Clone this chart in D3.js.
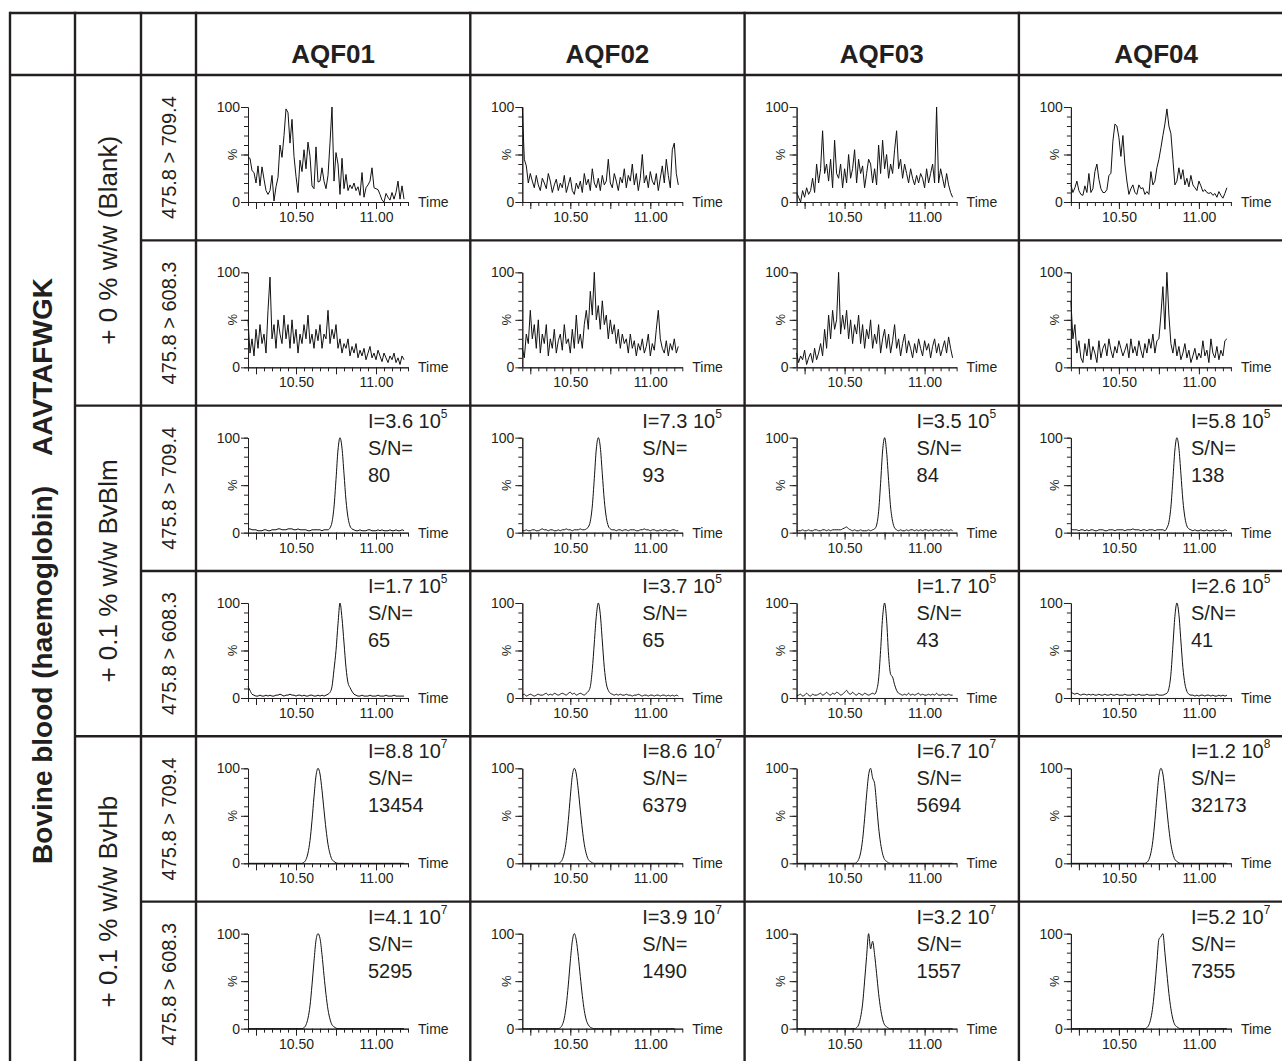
<!DOCTYPE html>
<meta charset="utf-8">
<body style="margin:0;background:#fff">
<script src="https://d3js.org/d3.v7.min.js"></script>
<script>
// ---- labels ----
var columns = ["AQF01", "AQF02", "AQF03", "AQF04"];
var groups = ["+ 0 % w/w (Blank)", "+ 0.1 % w/w BvBlm", "+ 0.1 % w/w BvHb"];
var transitions = ["475.8 > 709.4", "475.8 > 608.3"];
var sideLabel = ["Bovine blood (haemoglobin)", "AAVTAFWGK"];
var xLabels = [10.50, 11.00];
var xMajor = [10.25, 10.50, 10.75, 11.00];
var yLabels = [0, 100];

// sampling of every trace: first time and spacing (min)
var tStart = 10.2, tStep = 0.0125;

// ---- chromatogram intensities (% of max), one array per AQF column ----
var blank709 = [
  [47,46,33,31,20,38,17,37,24,12,8,12,28,1,16,26,60,47,70,98,94,62,87,48,27,10,44,32,55,35,63,48,17,14,58,21,22,36,22,14,28,62,100,22,52,40,8,46,14,29,12,18,14,20,12,16,7,31,5,15,18,22,36,15,14,13,8,2,0,9,5,2,10,3,10,22,3,17,3],
  [100,45,38,20,30,22,15,28,18,12,25,20,14,30,22,10,18,24,12,20,15,28,10,18,26,12,8,20,14,22,10,30,18,24,12,35,20,15,25,12,28,18,22,45,20,15,30,22,12,26,20,35,15,28,22,40,18,30,12,25,50,20,28,15,32,22,18,30,12,25,38,20,45,28,15,55,62,30,18],
  [10,5,0,12,5,15,8,12,25,10,40,20,35,75,30,40,22,45,15,65,30,25,40,15,35,20,50,25,35,55,20,45,30,38,15,30,45,40,20,35,18,60,30,65,35,50,25,40,30,55,75,35,45,25,40,30,20,35,25,18,28,20,30,25,15,35,20,30,40,20,100,20,35,25,15,30,18,10,5],
  [18,10,15,22,12,8,7,17,10,30,10,14,32,40,24,14,10,10,13,28,30,64,82,80,68,48,70,40,22,8,14,18,10,8,18,14,15,8,11,8,32,18,22,36,45,57,70,82,98,80,72,45,18,22,36,24,34,18,25,16,28,18,15,12,22,17,11,13,10,9,10,7,9,5,11,7,4,9,15]
];
var blank608 = [
  [50,15,30,12,40,20,45,25,35,15,60,95,30,45,20,50,35,25,55,30,45,20,50,25,40,15,35,25,45,30,55,25,35,20,40,28,45,20,35,30,60,25,40,30,45,20,30,15,25,20,30,12,22,15,25,10,18,12,20,8,15,22,10,15,8,18,12,6,15,10,5,12,8,15,5,10,3,12,8],
  [20,10,35,25,60,30,45,20,50,15,35,25,45,12,30,20,40,15,28,35,18,45,25,30,15,40,20,55,25,35,20,45,60,40,80,55,100,50,65,40,70,45,55,30,50,35,45,25,40,20,35,25,30,15,35,20,28,12,25,18,30,15,22,35,12,25,18,40,60,30,20,15,28,12,25,18,30,15,22],
  [15,5,12,8,18,3,10,15,5,20,8,15,25,12,40,20,55,30,60,40,50,100,35,55,40,60,30,50,25,45,35,55,25,45,20,40,30,50,20,35,25,45,15,30,40,20,35,15,28,45,20,30,12,25,35,15,28,20,10,25,15,30,20,12,28,18,25,10,22,30,15,25,12,20,28,15,32,20,10],
  [70,30,45,15,28,10,5,25,12,30,8,22,15,5,28,10,20,25,12,30,18,10,22,15,28,20,12,18,25,10,30,15,22,12,28,18,10,25,15,30,20,35,15,28,30,55,85,40,100,55,25,15,30,12,22,8,15,25,10,18,5,12,20,8,15,10,28,12,18,5,30,15,10,22,8,18,12,28,30]
];
var blm709 = [
  [4,4,3,3,3,2,2,2,3,3,2,2,3,3,3,4,4,3,3,3,4,4,4,3,3,4,3,3,3,3,2,2,3,3,3,3,3,2,3,3,3,5,11,27,56,87,100,89,62,34,16,7,4,3,2,2,3,2,2,2,3,3,2,2,2,3,2,3,2,2,2,3,2,2,3,2,2,3,2],
  [2,2,3,2,2,3,3,2,2,3,4,3,3,2,3,3,2,2,3,2,3,3,4,3,3,2,3,3,3,4,3,3,4,6,12,28,57,88,100,90,62,34,16,7,4,3,3,2,3,3,2,3,3,2,3,3,3,2,2,3,3,4,3,3,2,3,3,2,2,3,2,3,3,2,2,3,3,2,2],
  [2,2,2,3,2,2,3,2,2,3,3,2,2,3,3,2,3,2,3,3,3,3,3,4,5,6,4,3,2,3,2,2,3,2,2,2,3,2,3,4,8,22,52,86,100,85,55,27,12,5,3,2,3,2,2,3,2,3,3,2,3,2,3,2,3,3,2,3,2,3,3,2,3,3,2,3,2,3,2],
  [4,3,3,3,2,3,3,2,3,2,3,3,2,2,3,3,3,2,2,3,3,3,2,3,3,3,3,2,3,3,3,4,3,3,3,2,3,3,2,3,3,3,2,3,3,3,3,2,5,11,27,56,87,100,89,62,34,16,7,4,3,2,3,2,2,3,2,2,3,2,2,3,2,2,3,2,2,3,2]
];
var blm608 = [
  [12,8,4,3,2,2,3,2,2,3,2,3,2,2,3,3,4,3,2,3,3,4,3,3,2,3,3,2,3,2,2,3,3,2,2,3,2,3,2,3,4,6,12,30,50,78,100,84,58,32,16,11,7,4,3,2,2,3,2,2,2,3,2,2,2,3,2,2,2,3,2,2,2,3,2,2,2,2,2],
  [3,4,2,3,4,3,2,3,4,3,3,4,5,3,4,3,5,4,3,4,5,4,3,5,6,4,5,3,4,5,4,3,5,7,12,30,58,86,100,88,60,32,15,8,5,4,3,4,3,4,3,3,4,3,3,2,3,3,4,3,2,3,3,2,3,3,2,3,3,2,3,3,2,3,2,3,2,3,2],
  [2,3,4,2,3,5,3,2,4,3,3,4,5,3,4,6,4,3,5,4,6,5,3,4,6,8,5,4,6,4,3,5,4,3,5,4,3,4,5,4,8,20,50,85,100,82,45,25,22,14,8,5,4,3,4,3,5,3,4,3,4,5,3,4,3,3,4,3,4,3,5,3,3,4,3,3,4,3,3],
  [6,5,4,5,4,3,4,4,3,4,3,4,3,3,4,3,3,4,3,3,4,3,3,4,3,3,3,4,3,3,3,4,3,3,4,3,3,3,4,3,3,3,3,4,3,3,3,4,5,10,25,55,86,100,88,60,32,15,7,4,3,3,2,3,2,3,3,2,3,3,2,3,2,2,3,2,3,2,3]
];
var hb709 = [
  [0,0,0,0,0,0,0,0,0,0,0,0,0,0,0,0,0,0,0,0,0,0,0,0,0,0,0,0,1,4,11,24,45,70,92,100,94,77,56,36,20,10,4,2,0.5,0,0,0,0,0,0,0,0,0,0,0,0,0,0,0,0,0,0,0,0,0,0,0,0,0,0,0,0,0,0,0,0,0,0],
  [0,0,0,0,0,0,0,0,0,0,0,0,0,0,0,0,0,0,0,1,4,11,24,45,70,92,100,94,77,56,36,20,10,4,2,0.5,0,0,0,0,0,0,0,0,0,0,0,0,0,0,0,0,0,0,0,0,0,0,0,0,0,0,0,0,0,0,0,0,0,0,0,0,0,0,0,0,0,0,0],
  [0,0,0,0,0,0,0,0,0,0,0,0,0,0,0,0,0,0,0,0,0,0,0,0,0,0,0,0,0,0,1,4,11,25,47,72,93,100,90,84,62,38,21,10,4,2,0.5,0,0,0,0,0,0,0,0,0,0,0,0,0,0,0,0,0,0,0,0,0,0,0,0,0,0,0,0,0,0,0,0],
  [0,0,0,0,0,0,0,0,0,0,0,0,0,0,0,0,0,0,0,0,0,0,0,0,0,0,0,0,0,0,0,0,0,0,0,0,0,0,1,4,11,24,45,70,92,100,94,77,56,36,20,10,4,2,0.5,0,0,0,0,0,0,0,0,0,0,0,0,0,0,0,0,0,0,0,0,0,0,0,0]
];
var hb608 = [
  [0,0,0,0,0,0,0,0,0,0,0,0,0,0,0,0,0,0,0,0,0,0,0,0,0,0,0,0,1,4,11,24,46,71,93,100,95,78,56,36,20,10,4,2,0.5,0,0,0,0,0,0,0,0,0,0,0,0,0,0,0,0,0,0,0,0,0,0,0,0,0,0,0,0,0,0,0,0,0,0],
  [0,0,0,0,0,0,0,0,0,0,0,0,0,0,0,0,0,0,0,1,4,11,25,46,71,92,100,93,76,55,35,19,9,4,1.5,0.5,0,0,0,0,0,0,0,0,0,0,0,0,0,0,0,0,0,0,0,0,0,0,0,0,0,0,0,0,0,0,0,0,0,0,0,0,0,0,0,0,0],
  [0,0,0,0,0,0,0,0,0,0,0,0,0,0,0,0,0,0,0,0,0,0,0,0,0,0,0,0,0,0,1,4,12,26,50,76,100,84,92,78,58,37,21,10,4,2,0.5,0,0,0,0,0,0,0,0,0,0,0,0,0,0,0,0,0,0,0,0,0,0,0,0,0,0,0,0,0,0,0,0],
  [0,0,0,0,0,0,0,0,0,0,0,0,0,0,0,0,0,0,0,0,0,0,0,0,0,0,0,0,0,0,0,0,0,0,0,0,0,0,1,4,11,24,45,70,94,97,100,80,58,37,21,10,4,2,0.5,0,0,0,0,0,0,0,0,0,0,0,0,0,0,0,0,0,0,0,0,0,0,0,0]
];
var traceRows = [blank709, blank608, blm709, blm608, hb709, hb608];

// peak annotations for rows 3-6 (BvBlm, BvHb)
var intMantissa = [["3.6", "7.3", "3.5", "5.8"], ["1.7", "3.7", "1.7", "2.6"], ["8.8", "8.6", "6.7", "1.2"], ["4.1", "3.9", "3.2", "5.2"]];
var intExponent = [[5, 5, 5, 5], [5, 5, 5, 5], [7, 7, 7, 8], [7, 7, 7, 7]];
var snRatio = [[80, 93, 84, 138], [65, 65, 43, 41], [13454, 6379, 5694, 32173], [5295, 1490, 1557, 7355]];

// ---- layout ----
var colX = [10, 75, 141, 196, 470.3, 744.6, 1018.9, 1293.2];
var headTop = 13, headBottom = 75, rowH = 165.33;
var ink = "#231f20";
var font = "'Liberation Sans', Arial, Helvetica, sans-serif";

var svg = d3.select("body").append("svg")
    .attr("width", 1282).attr("height", 1061)
    .style("display", "block")
    .attr("font-family", font);

function rowTop(r) { return headBottom + r * rowH; }

// table grid
var grid = svg.append("g").attr("stroke", ink).attr("stroke-width", 2.4).attr("fill", "none");
colX.forEach(function(x) {
    grid.append("line").attr("x1", x).attr("x2", x).attr("y1", headTop - 1.2).attr("y2", rowTop(6) + 1.2);
});
[headTop, headBottom].forEach(function(y) {
    grid.append("line").attr("x1", colX[0]).attr("x2", colX[7]).attr("y1", y).attr("y2", y);
});
for (var r = 1; r <= 6; r++) {
    grid.append("line")
        .attr("x1", r % 2 === 0 ? colX[1] : colX[2]).attr("x2", colX[7])
        .attr("y1", rowTop(r)).attr("y2", rowTop(r));
}

// column headers
columns.forEach(function(c, i) {
    svg.append("text")
        .attr("x", (colX[i + 3] + colX[i + 4]) / 2).attr("y", 63)
        .attr("text-anchor", "middle")
        .attr("font-size", 26).attr("font-weight", "bold").attr("fill", ink)
        .text(c);
});

// side label, rotated
var side = svg.append("text")
    .attr("transform", "translate(42," + rowTop(3) + ") rotate(-90)")
    .attr("text-anchor", "middle").attr("dominant-baseline", "central")
    .attr("font-size", 28).attr("font-weight", "bold").attr("fill", ink);
side.append("tspan").text(sideLabel[0]);
side.append("tspan").attr("dx", 30).text(sideLabel[1]);

// group labels
groups.forEach(function(gname, i) {
    svg.append("text")
        .attr("transform", "translate(108," + rowTop(2 * i + 1) + ") rotate(-90)")
        .attr("text-anchor", "middle").attr("dominant-baseline", "central")
        .attr("font-size", 26).attr("fill", ink)
        .text(gname);
});

// transition labels
for (var r2 = 0; r2 < 6; r2++) {
    svg.append("text")
        .attr("transform", "translate(169," + (rowTop(r2) + rowH / 2) + ") rotate(-90)")
        .attr("text-anchor", "middle").attr("dominant-baseline", "central")
        .attr("font-size", 20).attr("fill", ink)
        .text(transitions[r2 % 2]);
}

// ---- chromatograms ----
var xMinor = d3.range(10.20, 11.201, 0.05);
var yMinor = d3.range(0, 101, 10);

traceRows.forEach(function(rowSeries, r) {
    rowSeries.forEach(function(vals, c) {
        var cx = colX[c + 3], cy = rowTop(r);
        var x = d3.scaleLinear().domain([10.2, 11.2]).range([cx + 52, cx + 212]);
        var y = d3.scaleLinear().domain([0, 100]).range([cy + 127, cy + 32]);
        var cell = svg.append("g");

        // x axis: minor then major ticks with labels
        cell.append("g").attr("transform", "translate(0," + y(0) + ")")
            .call(d3.axisBottom(x).tickValues(xMinor).tickSize(4).tickSizeOuter(0).tickFormat(""));
        cell.append("g").attr("transform", "translate(0," + y(0) + ")")
            .call(d3.axisBottom(x).tickValues(xMajor).tickSize(7).tickSizeOuter(0).tickPadding(3)
                .tickFormat(function(d) { return xLabels.indexOf(d) >= 0 ? d.toFixed(2) : ""; }));

        // y axis
        cell.append("g").attr("transform", "translate(" + x(10.2) + ",0)")
            .call(d3.axisLeft(y).tickValues(yMinor).tickSize(4).tickSizeOuter(0).tickFormat(""));
        cell.append("g").attr("transform", "translate(" + x(10.2) + ",0)")
            .call(d3.axisLeft(y).tickValues([0, 50, 100]).tickSize(7).tickSizeOuter(0).tickPadding(1)
                .tickFormat(function(d) { return yLabels.indexOf(d) >= 0 ? d : ""; }));

        cell.selectAll(".domain, .tick line").attr("stroke", ink).attr("stroke-width", 1);
        cell.selectAll(".tick text").attr("fill", ink).attr("font-size", 14).attr("font-family", font);

        cell.append("text")
            .attr("transform", "translate(" + (x(10.2) - 16) + "," + y(50) + ") rotate(-90)")
            .attr("text-anchor", "middle").attr("dominant-baseline", "central")
            .attr("font-size", 13).attr("fill", ink).text("%");
        cell.append("text")
            .attr("x", x(11.2) + 10).attr("y", y(0) + 5)
            .attr("font-size", 14).attr("fill", ink).text("Time");

        var line = d3.line()
            .x(function(d, i) { return x(tStart + i * tStep); })
            .y(function(d) { return y(d); })
            .curve(r < 2 ? d3.curveLinear : d3.curveMonotoneX);
        cell.append("path").datum(vals)
            .attr("d", line)
            .attr("fill", "none").attr("stroke", "#111").attr("stroke-width", 1)
            .attr("stroke-linejoin", "round");

        // annotation for peak rows
        if (r >= 2) {
            var ax = cx + 172, k = r - 2;
            var t1 = cell.append("text").attr("x", ax).attr("y", cy + 22)
                .attr("font-size", 20).attr("fill", ink);
            t1.append("tspan").text("I=" + intMantissa[k][c] + " 10");
            t1.append("tspan").attr("dy", -10).attr("font-size", 12).text(intExponent[k][c]);
            cell.append("text").attr("x", ax).attr("y", cy + 49)
                .attr("font-size", 20).attr("fill", ink).text("S/N=");
            cell.append("text").attr("x", ax).attr("y", cy + 76)
                .attr("font-size", 20).attr("fill", ink).text(snRatio[k][c]);
        }
    });
});
</script>
